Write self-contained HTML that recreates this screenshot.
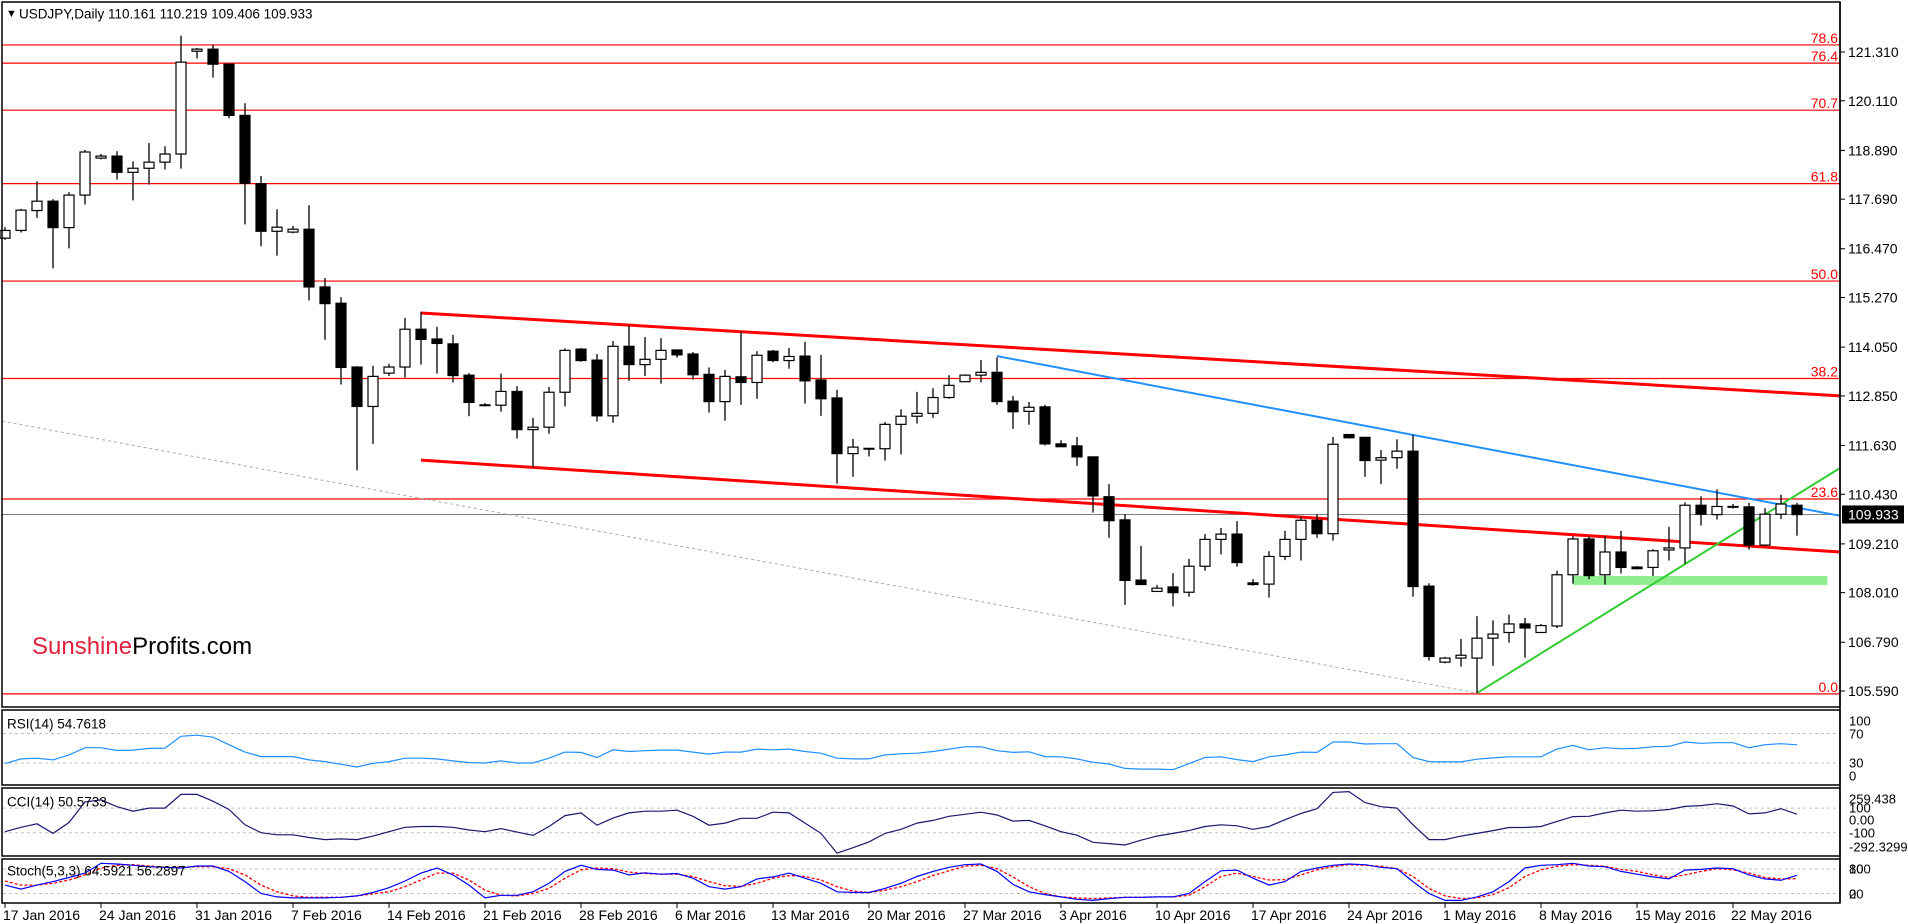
<!DOCTYPE html>
<html><head><meta charset="utf-8"><style>
html,body{margin:0;padding:0;background:#fff;}
svg{display:block;font-family:"Liberation Sans",sans-serif;}
</style></head><body>
<svg id="chart" width="1908" height="924" viewBox="0 0 1908 924" xmlns="http://www.w3.org/2000/svg">
<rect x="0" y="0" width="1908" height="924" fill="#fff"/>
<g id="grid"></g><g id="objs"></g><g id="candles"></g><g id="ind"></g><g id="axes"></g>
</svg>
<script>
const opens=[116.73,116.92,117.41,117.64,116.99,117.79,118.70,118.75,118.35,118.45,118.60,118.80,121.33,121.38,121.01,119.75,118.07,116.90,116.88,116.95,115.53,115.13,113.56,112.59,113.41,113.56,114.49,114.25,114.13,113.36,112.62,112.62,112.96,112.02,112.08,112.94,114.00,113.73,112.36,114.07,113.62,113.75,113.98,113.88,113.38,112.71,113.32,113.18,113.95,113.72,113.83,113.24,112.80,111.43,111.56,111.55,112.15,112.35,112.42,112.81,113.20,113.36,113.43,112.72,112.47,112.58,111.67,111.62,111.35,110.37,109.80,108.32,108.04,108.15,108.02,108.66,109.32,109.45,108.25,108.22,108.90,109.32,109.79,109.46,111.90,111.83,111.27,111.33,111.49,108.17,106.30,106.40,106.40,106.89,107.03,107.24,107.03,107.19,108.45,109.33,108.45,109.01,108.64,108.63,109.06,109.11,110.16,109.93,110.13,110.12,109.18,109.94,110.16];
const highs=[117.00,117.45,118.13,117.69,117.86,118.90,118.80,118.87,118.62,119.07,118.99,121.71,121.41,121.49,121.01,120.05,118.26,117.44,117.03,117.54,115.75,115.28,113.58,113.59,113.64,114.77,114.92,114.55,114.35,113.41,112.67,113.40,113.09,112.31,113.07,114.02,114.03,113.88,114.20,114.58,114.30,114.27,113.98,113.93,113.55,113.49,114.43,113.95,113.98,114.03,114.18,113.86,113.00,111.79,111.57,112.21,112.52,112.95,113.04,113.36,113.38,113.73,113.80,112.85,112.70,112.63,111.76,111.84,111.36,110.68,109.94,109.16,108.20,108.49,108.84,109.45,109.60,109.77,108.34,109.03,109.53,109.88,109.94,111.84,111.91,111.83,111.52,111.78,111.89,108.24,106.43,106.87,107.43,107.33,107.47,107.39,107.24,108.55,109.40,109.40,109.40,109.53,108.66,109.08,109.63,110.23,110.38,110.55,110.19,110.22,110.09,110.42,110.22];
const lows=[116.69,116.87,117.23,115.99,116.48,117.56,118.67,118.17,117.66,118.05,118.42,118.44,121.15,120.68,119.68,117.07,116.53,116.30,116.85,115.20,114.23,113.13,111.02,111.67,113.34,113.30,113.62,113.40,113.18,112.35,112.59,112.46,111.80,111.09,111.92,112.59,113.69,112.22,112.19,113.22,113.34,113.15,113.79,113.25,112.44,112.24,112.63,112.78,113.68,113.52,112.66,112.36,110.69,110.86,111.36,111.26,111.41,112.17,112.31,112.78,113.20,113.18,112.63,112.04,112.14,111.63,111.60,111.13,109.98,109.36,107.71,108.21,108.04,107.67,107.91,108.55,108.95,108.65,108.18,107.89,108.81,108.80,109.36,109.29,111.80,110.86,110.68,111.06,107.91,106.34,106.27,106.19,105.54,106.21,106.78,106.41,107.03,107.14,108.23,108.34,108.21,108.48,108.58,108.42,108.80,108.72,109.66,109.81,110.08,109.07,109.18,109.82,109.41];
const closes=[116.92,117.42,117.64,116.99,117.79,118.85,118.75,118.35,118.45,118.60,118.80,121.06,121.38,121.01,119.75,118.08,116.90,117.00,116.95,115.53,115.12,113.55,112.59,113.33,113.56,114.49,114.24,114.14,113.35,112.69,112.63,112.96,112.02,112.08,112.94,113.97,113.72,112.36,114.07,113.62,113.75,113.97,113.86,113.37,112.71,113.33,113.18,113.85,113.72,113.82,113.22,112.78,111.43,111.59,111.55,112.15,112.35,112.42,112.81,113.11,113.36,113.43,112.71,112.46,112.57,111.67,111.60,111.35,110.39,109.78,108.31,108.21,108.12,108.01,108.66,109.32,109.45,108.75,108.21,108.90,109.32,109.79,109.46,111.66,111.82,111.26,111.33,111.49,108.16,106.44,106.40,106.47,106.89,106.99,107.24,107.14,107.20,108.45,109.33,108.43,109.01,108.63,108.60,109.04,109.11,110.16,109.94,110.13,110.12,109.18,109.94,110.19,109.93];
const rsiVals=[29.1,35.5,36.4,34.1,41,50.7,50.7,47,47.5,49.8,50.2,66.3,67.7,65,54.8,44.7,38.7,38.7,38.7,34.1,31.8,28.2,24.5,29.5,31.8,36.4,36.4,35.5,32.8,30.5,30,32.8,30,30,36.4,44.7,44.3,37.4,47.9,45.6,46.6,47.5,47.5,44.7,42,44.7,44.7,48.9,47.9,48.9,45.6,43.3,36.4,35.5,35.5,41,42.4,43.3,45.6,48.9,52,52.1,46.6,44.3,45.2,38.7,38.3,35.5,30.9,28.6,22.6,21.7,21.7,20.8,29.1,37.4,38.3,34.6,31.8,38.3,41,44.7,44.3,58.5,58.5,55.8,56.2,56.2,37.4,31.8,31.4,31.4,35.1,36.9,38.3,38.3,38.3,48.9,53.9,47.9,50.7,49.3,49.8,52.1,52.5,58.5,56.7,57.6,57.6,50.7,54.8,56.2,54.76];
const cciVals=[-92,-56,-28,-106,-17,150,167,111,75,100,100,211,211,156,89,-36,-100,-117,-117,-139,-156,-150,-156,-128,-92,-56,-50,-50,-56,-78,-92,-67,-95,-122,-50,39,61,-39,19,61,75,75,83,33,-39,-22,17,17,67,61,-22,-106,-267,-222,-175,-106,-72,-22,0,33,50,67,44,-6,0,-44,-92,-120,-178,-189,-200,-161,-128,-106,-83,-50,-36,-44,-72,-50,6,56,95,228,234,145,111,100,-36,-156,-156,-128,-106,-83,-58,-58,-50,-8,31,33,61,83,75,78,89,114,120,136,117,53,61,95,50.57];
const stochMain=[40.8,30.8,40.8,49.2,59.2,70,94.2,92.5,89.2,85.8,84.2,82.5,87.5,87.5,74.2,49.2,20,11.7,9.2,9.2,9.2,10.8,14.2,22.5,34.2,50.8,70,82.5,65.8,40.8,9.2,15.8,15.8,24.2,45,74.2,89.2,79.2,77.5,65.8,70.8,67.5,69.2,57.5,36.7,30.8,36.7,55.8,60.8,70,57.5,45,24.2,22.5,22.5,32.5,45,61.7,74.2,84.2,90.8,92.5,74.2,42.5,24.2,17.5,11.7,5.8,3.3,7.5,10.8,10.8,11.7,11.7,20,49.2,75.8,77.5,57.5,40.8,49.2,74.2,82.5,89.2,92.5,90.8,84.2,80.8,49.2,20,3.3,3.3,11.7,24.2,49.2,82.5,89.2,90.8,94.2,87.5,85.8,74.2,67.5,60.8,55.8,77.5,79.2,82.5,80.8,65.8,55.8,52.5,64.6];
const stochSignal=[50.8,40.8,40.8,45,53.3,65.8,82.5,89.2,90.8,87.5,84.2,84.2,85.8,85.8,80.8,65.8,40.8,24.2,14.2,10.8,10.8,10.8,14.2,19.2,24.2,36.7,53.3,70,70,53.3,28.3,15.8,14.2,20,32.5,57.5,78.3,82.5,80.8,72.5,69.2,67.5,67.5,61.7,49.2,39.2,37.5,45,57.5,64.2,61.7,53.3,36.7,25.8,22.5,28.3,36.7,49.2,64.2,75.8,87,89.2,80.8,60.8,36.7,20,11.7,9.2,7.5,9.2,10.8,10.8,11.7,11.7,15.8,36.7,61.7,70,61.7,53.3,54.2,65.8,78.3,85.8,90.8,89.2,86.7,80.8,61.7,32.5,14.2,7.5,9.2,17.5,34.2,61.7,78.3,86.7,90.8,89.2,86.7,79.2,74.2,65.8,59.2,65.8,74.2,80.8,78.3,70,59.2,55.8,56.3];
const priceTicks=[121.310,120.110,118.890,117.690,116.470,115.270,114.050,112.850,111.630,110.430,109.210,108.010,106.790,105.590];
const fibLevels=[78.6,76.4,70.7,61.8,50.0,38.2,23.6,0.0];
const fibLow=105.52, fibHigh=125.83;
const dateLabels=["17 Jan 2016","24 Jan 2016","31 Jan 2016","7 Feb 2016","14 Feb 2016","21 Feb 2016","28 Feb 2016","6 Mar 2016","13 Mar 2016","20 Mar 2016","27 Mar 2016","3 Apr 2016","10 Apr 2016","17 Apr 2016","24 Apr 2016","1 May 2016","8 May 2016","15 May 2016","22 May 2016"];
const upperChannel=[[26,114.89],[114.7,112.85]];
const lowerChannel=[[26,111.27],[114.7,109.01]];
const blueLine=[[62,113.83],[114.7,109.90]];
const greenLine=[[92,105.54],[114.7,111.08]];
const grayLine=[[-0.2,112.23],[92,105.54]];
const supportZone=[98,113.9,108.42,108.20];
const lastPrice=109.933;
const rsiTicks=[["100",721],["70",734],["30",763],["0",776]];
const cciTicks=["259.438","100","0.00","-100","-292.3299"];
const cciTickVals=[259.438,100,0,-100,-292.33];

const NS="http://www.w3.org/2000/svg";
const PR=1840;
function xi(i){return 5+16*i;}
function yp(p){return 52+(121.31-p)*40.65;}
function yr(v){return 785-v*0.735;}
function yc(v){return 820.4-v*0.123;}
function ys(v){return 901.7-v*0.408;}
function mk(tag,attrs,parent){const e=document.createElementNS(NS,tag);for(const k in attrs)e.setAttribute(k,attrs[k]);parent.appendChild(e);return e;}
const grid=document.getElementById('grid'),objs=document.getElementById('objs'),cg=document.getElementById('candles'),ind=document.getElementById('ind'),ax=document.getElementById('axes');

// fib lines
fibLevels.forEach(l=>{
 const p=fibLow+(fibHigh-fibLow)*l/100;const y=yp(p);
 const ln=mk('line',{x1:2,x2:PR,y1:y,y2:y,stroke:'#ff0000','stroke-width':1.2},grid);
 
 
 const t=mk('text',{x:1838,y:y-2,'text-anchor':'end','font-size':14,fill:'#ff0000'},grid);
 t.textContent=l.toFixed(1);
 
 
});
// current price line
{const y=yp(lastPrice);const ln=mk('line',{x1:2,x2:PR,y1:y,y2:y,stroke:'#808080','stroke-width':1},grid);
 
 }
// support zone
{const r=mk('rect',{x:xi(supportZone[0]),y:yp(supportZone[2]),width:xi(supportZone[1])-xi(supportZone[0]),height:yp(supportZone[3])-yp(supportZone[2]),fill:'#90ee90'},objs);
 
 }
function seg(a,col,w,name,dash){const l=mk('line',{x1:xi(a[0][0]),y1:yp(a[0][1]),x2:xi(a[1][0]),y2:yp(a[1][1]),stroke:col,'stroke-width':w},objs);if(dash)l.setAttribute('stroke-dasharray',dash);
 
 }
seg(grayLine,'#a8a8a8',1,'gray-dotted-trendline','3,3');
seg(upperChannel,'#ff0000',3,'upper-channel-line');
seg(lowerChannel,'#ff0000',3,'lower-channel-line');
seg(blueLine,'#1e90ff',2,'blue-resistance-line');
seg(greenLine,'#32cd32',2,'green-support-line');

// candles
for(let i=0;i<opens.length;i++){
 const x=xi(i),o=opens[i],c=closes[i];
 const w=mk('line',{x1:x,x2:x,y1:yp(highs[i]),y2:yp(lows[i]),stroke:'#000','stroke-width':1.3},cg);
 
 
 const top=yp(Math.max(o,c)),bot=yp(Math.min(o,c));
 const b=mk('rect',{x:x-5,y:top,width:10,height:Math.max(bot-top,0.8),fill:c>=o?'#fff':'#000',stroke:'#000','stroke-width':1.2},cg);
 
 
}

// panels
function panel(y1,y2,name){const r=mk('rect',{x:2,y:y1,width:PR-2,height:y2-y1,fill:'none',stroke:'#000','stroke-width':1.5},ax);
 
 }
panel(2,707,'main-panel');panel(710,785,'rsi-panel');panel(788,856,'cci-panel');panel(859,903,'stoch-panel');
mk('line',{x1:PR,x2:PR,y1:2,y2:903,stroke:'#000','stroke-width':1.5},ax);

function dashed(y,name){const l=mk('line',{x1:3,x2:PR,y1:y,y2:y,stroke:'#c0c0c0','stroke-width':1,'stroke-dasharray':'3,3'},ind);
 
 }
dashed(yr(70),'rsi-level-70');dashed(yr(30),'rsi-level-30');dashed(yc(100),'cci-level-100');dashed(yc(-100),'cci-level-minus100');dashed(ys(80),'stoch-level-80');dashed(ys(20),'stoch-level-20');

function series(vals,fy,col,w,name,dash){const pts=vals.map((v,i)=>xi(i)+','+fy(v).toFixed(1)).join(' ');
 const p=mk('polyline',{points:pts,fill:'none',stroke:col,'stroke-width':w},ind);if(dash)p.setAttribute('stroke-dasharray',dash);
 
 }
series(rsiVals,yr,'#1e90ff',1.2,'rsi-line');
series(cciVals,yc,'#191970',1.2,'cci-line');
series(stochSignal,ys,'#ff0000',1.3,'stoch-signal-line','3,2');
series(stochMain,ys,'#0000ff',1.2,'stoch-main-line');

function txt(x,y,s,size,name,fill,anchor){const t=mk('text',{x:x,y:y,'font-size':size,fill:fill||'#000','text-anchor':anchor||'start','dominant-baseline':'central'},ax);t.textContent=s;
 
 return t;}
// price axis
priceTicks.forEach(p=>{const y=yp(p);mk('line',{x1:PR,x2:PR+5,y1:y,y2:y,stroke:'#000'},ax);txt(1848,y,p.toFixed(3),14,'price-tick-label');});
// last price box
{const y=yp(lastPrice);const r=mk('rect',{x:PR+2,y:y-9,width:62,height:18,fill:'#000'},ax);
 
 
 txt(1848,y,lastPrice.toFixed(3),14,'last-price-label','#fff');}
rsiTicks.forEach(t=>txt(1849,t[1],t[0],13,'rsi-tick-label'));
cciTicks.forEach((s,k)=>{const yy=[799,808,820,833,847][k];txt(1849,yy,s,13,'cci-tick-label');});
txt(1849,869,'100',13,'stoch-tick-label');txt(1849,869,'80',13,'stoch-tick-label');
txt(1849,894,'20',13,'stoch-tick-label');txt(1849,894,'0',13,'stoch-tick-label');
// date axis
dateLabels.forEach((d,k)=>{const x=xi(6*k);mk('line',{x1:x,x2:x,y1:903,y2:908,stroke:'#000'},ax);txt(x-2,915,d,14,'date-tick-label');});
// titles
txt(6,14,'▼',11,'symbol-menu-arrow');
txt(19,14,'USDJPY,Daily  110.161 110.219 109.406 109.933',13.5,'chart-title');
txt(7,724,'RSI(14) 54.7618',13.5,'rsi-title');
txt(7,802,'CCI(14) 50.5733',13.5,'cci-title');
txt(7,871,'Stoch(5,3,3) 64.5921 56.2897',13.5,'stoch-title');
{const t=mk('text',{x:32,y:654,'font-size':24},ax);
 
 
 const a=mk('tspan',{fill:'#e0203c'},t);a.textContent='Sunshine';
 const b=mk('tspan',{fill:'#000'},t);b.textContent='Profits.com';}
</script>
</body></html>
